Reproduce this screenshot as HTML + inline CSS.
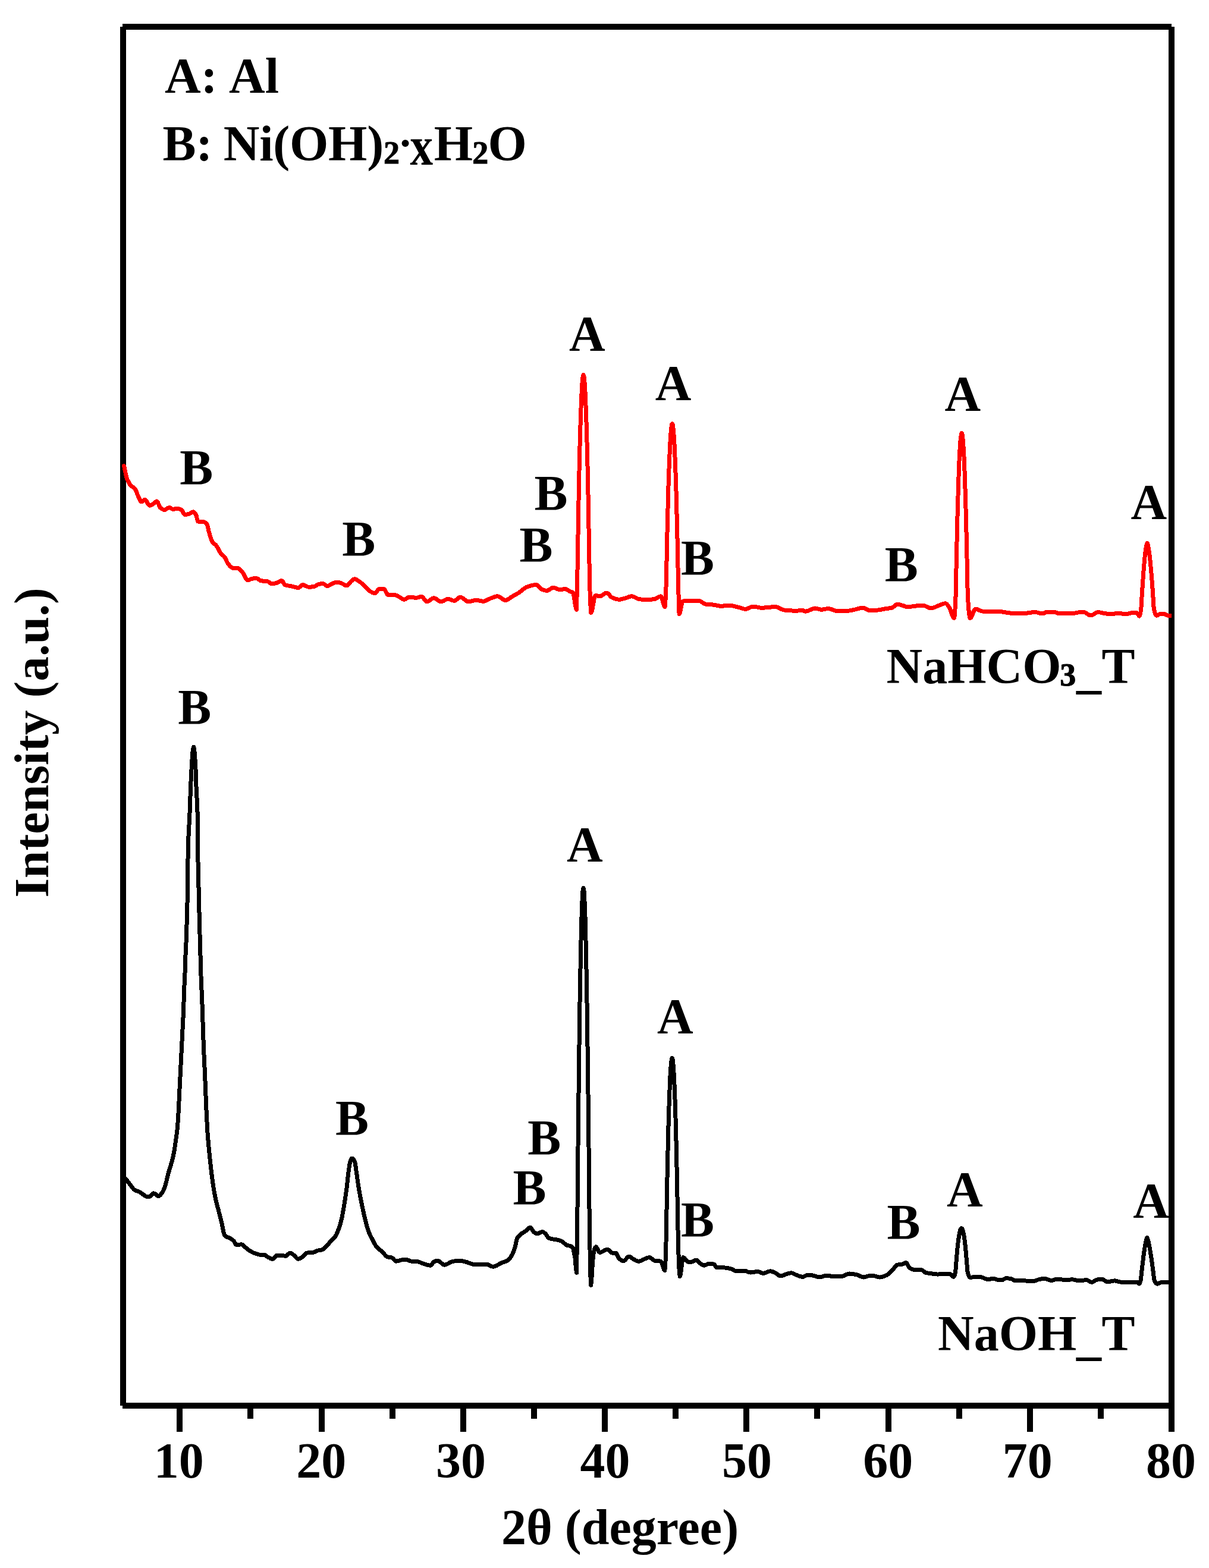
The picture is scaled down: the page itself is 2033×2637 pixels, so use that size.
<!DOCTYPE html>
<html lang="en">
<head>
<meta charset="utf-8">
<title>XRD patterns</title>
<style>
html,body{margin:0;padding:0;background:#fff;}
body{width:2033px;height:2637px;overflow:hidden;}
svg{display:block;}
text{font-family:"Liberation Serif", "DejaVu Serif", serif;font-weight:bold;font-size:84.0px;fill:#000;}
.sub{font-size:54px;stroke:#000;stroke-width:1px;}
</style>
</head>
<body>
<svg width="2033" height="2637" viewBox="0 0 2033 2637" role="img" aria-label="XRD patterns of NaHCO3_T and NaOH_T">
<rect x="0" y="0" width="2033" height="2637" fill="#fff"/>
<g fill="#000" shape-rendering="crispEdges">
<rect x="206" y="40" width="1764" height="10"/>
<rect x="202" y="45" width="10" height="2319"/>
<rect x="1965" y="45" width="10" height="2363"/>
<rect x="206" y="2359" width="1764" height="10"/>
<rect x="297" y="2364" width="10" height="44"/>
<rect x="416" y="2364" width="10" height="22"/>
<rect x="536" y="2364" width="10" height="44"/>
<rect x="655" y="2364" width="10" height="22"/>
<rect x="774" y="2364" width="10" height="44"/>
<rect x="893" y="2364" width="10" height="22"/>
<rect x="1012" y="2364" width="10" height="44"/>
<rect x="1131" y="2364" width="10" height="22"/>
<rect x="1250" y="2364" width="10" height="44"/>
<rect x="1369" y="2364" width="10" height="22"/>
<rect x="1489" y="2364" width="10" height="44"/>
<rect x="1608" y="2364" width="10" height="22"/>
<rect x="1727" y="2364" width="10" height="44"/>
<rect x="1846" y="2364" width="10" height="22"/>
</g>
<svg x="0" y="0" width="1970" height="2637" viewBox="0 0 1970 2637" overflow="hidden">
<g fill="none" stroke-linejoin="round" stroke-linecap="round" shape-rendering="crispEdges">
<defs><path id="curve-naoh" d="M207.0 1978.5 L208.0 1979.4 L209.0 1980.3 L210.0 1981.2 L211.0 1982.2 L212.0 1983.3 L213.0 1984.5 L214.0 1985.7 L215.0 1987.0 L216.0 1988.4 L217.0 1989.7 L218.0 1991.1 L219.0 1992.4 L219.7 1993.3 L221.0 1995.0 L222.0 1996.4 L223.0 1997.7 L224.0 1999.0 L225.0 2000.1 L226.0 2001.0 L226.8 2001.6 L228.0 2002.2 L229.0 2002.6 L230.0 2002.9 L231.0 2003.2 L232.0 2003.5 L233.0 2003.9 L234.0 2004.3 L234.5 2004.5 L235.0 2004.8 L236.0 2005.4 L237.0 2006.1 L238.0 2006.9 L239.0 2007.7 L240.0 2008.4 L240.5 2008.7 L241.0 2009.0 L242.0 2009.7 L243.0 2010.4 L244.0 2011.2 L245.0 2011.8 L246.0 2012.3 L247.0 2012.7 L248.2 2012.9 L249.0 2012.9 L250.0 2012.7 L251.0 2012.4 L252.0 2012.0 L252.9 2011.7 L254.0 2010.9 L255.0 2009.8 L256.0 2008.6 L257.0 2007.5 L258.3 2006.9 L259.0 2007.0 L260.0 2007.4 L261.0 2007.9 L262.0 2008.6 L263.0 2009.3 L264.0 2010.2 L265.0 2011.2 L266.0 2011.7 L267.0 2011.5 L268.0 2010.9 L269.0 2010.1 L270.0 2009.1 L271.0 2007.9 L271.9 2006.9 L273.0 2005.4 L274.0 2003.6 L275.0 2001.5 L275.5 2000.4 L276.0 1999.2 L277.0 1996.5 L278.0 1993.4 L279.1 1989.7 L280.0 1986.1 L281.0 1981.7 L282.0 1977.2 L282.6 1974.8 L284.0 1970.0 L285.0 1966.9 L286.2 1963.0 L287.0 1960.3 L288.0 1956.9 L289.0 1953.4 L290.0 1949.7 L290.6 1947.4 L292.0 1940.8 L293.0 1935.6 L293.5 1932.5 L295.0 1922.2 L295.6 1917.7 L297.0 1907.9 L298.0 1899.9 L299.5 1882.1 L300.0 1872.5 L301.0 1852.4 L302.4 1822.7 L303.0 1811.4 L303.9 1793.0 L305.4 1763.3 L306.0 1751.4 L306.9 1733.6 L308.4 1703.9 L309.0 1685.4 L309.9 1659.4 L311.3 1629.7 L312.2 1600.0 L312.9 1588.7 L314.0 1555.2 L314.7 1530.0 L315.4 1504.7 L316.1 1436.0 L317.0 1406.6 L318.0 1387.4 L319.0 1367.4 L320.0 1339.6 L320.5 1326.2 L321.0 1313.9 L321.7 1298.7 L323.4 1271.2 L324.0 1264.3 L324.6 1259.5 L325.6 1256.2 L326.6 1259.5 L327.7 1271.2 L329.3 1298.7 L330.1 1326.2 L331.0 1342.1 L332.1 1367.4 L332.7 1436.0 L334.3 1504.7 L334.9 1530.0 L336.0 1571.2 L336.5 1588.7 L337.0 1606.6 L338.0 1641.2 L338.6 1657.4 L339.5 1674.2 L341.0 1718.8 L342.0 1748.8 L342.5 1763.3 L344.0 1795.0 L344.6 1807.8 L346.4 1852.4 L347.0 1867.0 L348.5 1896.9 L349.0 1904.9 L350.0 1917.3 L350.8 1926.6 L352.0 1939.0 L353.0 1948.8 L353.8 1956.3 L355.0 1967.1 L356.0 1975.6 L357.4 1986.0 L358.0 1990.4 L359.0 1996.9 L360.0 2003.0 L361.0 2008.5 L361.8 2012.7 L363.0 2018.1 L364.0 2022.3 L365.0 2026.2 L366.0 2030.1 L366.9 2033.5 L368.0 2038.0 L369.0 2041.9 L370.0 2045.7 L371.0 2049.6 L372.2 2054.3 L373.0 2057.7 L374.0 2062.5 L375.0 2067.5 L376.0 2072.1 L377.0 2075.7 L378.1 2078.0 L379.0 2078.8 L380.0 2079.4 L381.0 2080.0 L382.0 2080.4 L383.0 2080.8 L384.0 2081.1 L385.0 2081.5 L386.0 2081.9 L387.1 2082.5 L388.0 2083.1 L389.0 2083.7 L390.0 2084.4 L391.0 2085.2 L392.0 2086.0 L393.0 2086.9 L394.0 2088.4 L395.0 2090.3 L396.0 2092.2 L397.4 2093.5 L398.0 2093.5 L399.0 2093.4 L400.0 2093.3 L401.0 2093.3 L402.0 2093.2 L403.0 2093.1 L404.0 2093.0 L405.0 2092.9 L406.4 2092.9 L407.0 2093.0 L408.0 2093.4 L409.0 2094.1 L410.0 2095.1 L411.0 2096.1 L412.0 2097.2 L413.0 2098.2 L413.8 2098.8 L415.0 2099.8 L416.0 2100.5 L417.0 2101.3 L418.0 2102.0 L419.0 2102.8 L420.0 2103.4 L421.2 2104.2 L422.0 2104.6 L423.0 2105.2 L424.0 2105.7 L425.0 2106.2 L426.0 2106.7 L427.0 2107.1 L428.0 2107.6 L429.0 2107.9 L430.1 2108.3 L431.0 2108.6 L432.0 2108.9 L433.0 2109.3 L434.0 2109.5 L435.0 2109.8 L436.0 2110.0 L437.0 2110.1 L437.5 2110.1 L439.0 2110.1 L440.0 2110.1 L441.0 2110.1 L442.0 2110.1 L443.5 2110.1 L444.0 2110.1 L445.0 2110.4 L446.0 2111.0 L447.0 2111.6 L448.0 2112.3 L449.0 2113.1 L450.0 2113.8 L450.9 2114.3 L452.0 2114.8 L453.0 2115.3 L454.0 2115.9 L455.0 2116.4 L456.0 2116.8 L457.0 2117.1 L458.3 2117.2 L459.0 2117.1 L460.0 2116.4 L461.0 2115.5 L462.0 2114.3 L463.0 2113.1 L464.0 2112.1 L465.0 2111.4 L465.7 2111.3 L467.0 2111.3 L468.0 2111.3 L469.0 2111.3 L470.0 2111.3 L471.0 2111.3 L471.7 2111.3 L473.0 2111.3 L474.0 2111.4 L475.0 2111.6 L476.0 2111.7 L477.0 2111.9 L478.0 2112.0 L479.0 2112.1 L480.0 2112.2 L480.6 2112.2 L482.0 2111.7 L483.0 2110.9 L484.0 2109.9 L485.0 2108.9 L486.0 2108.0 L487.0 2107.4 L488.0 2107.1 L489.0 2107.3 L490.0 2107.7 L491.0 2108.4 L492.0 2109.2 L493.0 2110.0 L493.9 2110.7 L495.0 2111.6 L496.0 2112.7 L497.0 2113.8 L498.0 2115.0 L499.0 2116.0 L500.0 2116.8 L501.4 2117.2 L502.0 2117.2 L503.0 2117.0 L504.0 2116.6 L505.0 2116.1 L506.0 2115.5 L507.0 2114.8 L508.0 2114.2 L508.8 2113.7 L510.0 2112.7 L511.0 2111.7 L512.0 2110.5 L513.0 2109.4 L514.0 2108.4 L515.0 2107.6 L516.2 2107.1 L517.0 2107.0 L518.0 2106.9 L519.0 2106.8 L520.0 2106.7 L521.0 2106.7 L522.0 2106.6 L523.0 2106.6 L524.0 2106.5 L525.0 2106.4 L526.0 2106.3 L526.6 2106.2 L528.0 2105.9 L529.0 2105.5 L530.0 2105.0 L531.0 2104.5 L532.0 2104.0 L533.0 2103.6 L534.0 2103.3 L535.0 2103.0 L536.0 2102.8 L537.0 2102.7 L538.0 2102.5 L539.0 2102.4 L540.0 2102.2 L541.4 2101.8 L542.0 2101.6 L543.0 2101.1 L544.0 2100.4 L545.0 2099.6 L546.0 2098.8 L547.0 2097.8 L548.0 2096.8 L549.0 2095.8 L550.4 2094.4 L551.0 2093.7 L552.0 2092.5 L553.0 2091.2 L554.0 2089.8 L555.0 2088.5 L556.3 2086.9 L557.0 2086.2 L558.0 2085.2 L559.0 2084.4 L560.0 2083.5 L561.0 2082.6 L562.0 2081.6 L563.0 2080.5 L563.7 2079.5 L565.0 2077.4 L566.0 2075.4 L567.0 2073.1 L568.0 2070.6 L569.0 2067.9 L569.7 2066.2 L571.0 2062.3 L572.0 2059.1 L573.0 2055.6 L574.1 2051.3 L575.0 2047.3 L576.0 2042.3 L577.0 2036.7 L578.0 2030.9 L578.6 2027.6 L580.0 2018.8 L581.0 2012.3 L582.0 2005.4 L583.0 1997.9 L584.0 1989.2 L585.0 1979.5 L586.0 1971.1 L587.0 1963.8 L588.0 1957.4 L589.0 1953.3 L590.0 1950.6 L591.0 1948.7 L591.9 1948.0 L593.0 1948.4 L594.0 1949.3 L595.0 1950.7 L596.4 1953.3 L597.0 1955.5 L598.0 1961.6 L599.3 1971.1 L600.0 1975.5 L601.0 1982.7 L602.0 1989.9 L603.2 1997.9 L604.0 2002.5 L605.0 2008.1 L606.0 2013.4 L607.0 2018.4 L608.3 2024.6 L609.0 2028.2 L610.0 2033.0 L611.0 2037.6 L612.0 2042.1 L613.0 2046.4 L614.2 2051.3 L615.0 2054.5 L616.0 2058.4 L617.0 2062.1 L618.0 2065.7 L619.0 2068.9 L620.1 2072.1 L621.0 2074.2 L622.0 2076.5 L623.0 2078.5 L624.0 2080.5 L625.0 2082.3 L626.0 2084.1 L627.0 2085.9 L627.6 2086.9 L629.0 2089.7 L630.0 2091.7 L631.0 2093.5 L632.0 2095.2 L633.5 2097.3 L634.0 2097.9 L635.0 2098.9 L636.0 2099.8 L637.0 2100.6 L638.0 2101.4 L639.0 2102.1 L640.0 2102.8 L641.0 2103.6 L642.4 2104.8 L643.0 2105.3 L644.0 2106.4 L645.0 2107.6 L646.0 2108.8 L647.0 2110.0 L648.0 2111.2 L649.0 2112.2 L650.0 2113.0 L651.3 2113.7 L652.0 2113.9 L653.0 2114.1 L654.0 2114.3 L655.0 2114.4 L656.0 2114.5 L657.0 2114.7 L658.0 2114.9 L658.7 2115.1 L660.0 2115.9 L661.0 2116.8 L662.0 2117.9 L663.0 2119.0 L664.0 2120.0 L665.0 2120.7 L666.2 2121.1 L667.0 2121.0 L668.0 2120.9 L669.0 2120.7 L670.0 2120.4 L671.0 2120.1 L672.0 2119.8 L673.0 2119.5 L674.0 2119.2 L675.1 2119.0 L676.0 2118.9 L677.0 2118.7 L678.0 2118.5 L679.0 2118.4 L680.0 2118.3 L681.0 2118.2 L682.5 2118.1 L683.0 2118.1 L684.0 2118.3 L685.0 2118.7 L686.0 2119.1 L687.0 2119.6 L688.0 2120.1 L689.0 2120.5 L690.0 2120.8 L691.4 2121.1 L692.0 2121.1 L693.0 2121.1 L694.0 2121.1 L695.0 2121.2 L696.0 2121.2 L697.0 2121.2 L698.0 2121.2 L699.0 2121.2 L700.0 2121.3 L701.0 2121.3 L702.0 2121.5 L703.0 2121.8 L704.0 2122.1 L705.0 2122.5 L706.0 2122.8 L707.0 2123.3 L708.0 2123.7 L709.0 2124.1 L710.0 2124.5 L711.0 2124.8 L711.9 2125.1 L713.0 2125.5 L714.0 2125.8 L715.0 2126.1 L716.0 2126.4 L717.0 2126.8 L718.0 2127.1 L719.0 2127.4 L720.0 2127.6 L721.0 2127.8 L722.0 2128.0 L723.0 2128.1 L723.8 2128.1 L725.0 2127.5 L726.0 2126.5 L727.0 2125.1 L728.0 2123.8 L729.0 2122.7 L729.7 2122.1 L731.0 2121.5 L732.0 2121.0 L733.0 2120.6 L734.0 2120.3 L735.0 2120.1 L735.6 2120.1 L737.0 2120.3 L738.0 2120.8 L739.0 2121.5 L740.0 2122.3 L741.0 2123.1 L742.0 2124.0 L743.0 2124.9 L744.0 2125.7 L745.0 2126.4 L746.0 2126.9 L747.0 2127.2 L747.5 2127.2 L749.0 2127.0 L750.0 2126.7 L751.0 2126.3 L752.0 2125.8 L753.0 2125.3 L754.0 2124.7 L755.0 2124.1 L756.0 2123.6 L757.0 2123.1 L758.0 2122.6 L759.4 2122.1 L760.0 2122.0 L761.0 2121.7 L762.0 2121.5 L763.0 2121.3 L764.0 2121.0 L765.0 2120.8 L766.0 2120.6 L767.0 2120.4 L768.0 2120.3 L769.0 2120.2 L770.0 2120.1 L771.3 2120.1 L772.0 2120.1 L773.0 2120.1 L774.0 2120.2 L775.0 2120.4 L776.0 2120.6 L777.0 2120.7 L778.0 2121.0 L779.0 2121.2 L780.0 2121.4 L781.0 2121.7 L782.0 2121.9 L783.1 2122.1 L784.0 2122.4 L785.0 2122.7 L786.0 2123.0 L787.0 2123.4 L788.0 2123.8 L789.0 2124.2 L790.0 2124.6 L791.0 2125.0 L792.0 2125.3 L793.0 2125.7 L794.0 2126.0 L795.0 2126.2 L796.0 2126.4 L797.0 2126.6 L798.0 2126.6 L799.0 2126.6 L800.0 2126.6 L801.0 2126.6 L802.0 2126.6 L803.0 2126.6 L804.0 2126.6 L805.0 2126.6 L806.0 2126.6 L807.0 2126.6 L808.0 2126.6 L809.0 2126.6 L810.0 2126.6 L811.0 2126.6 L812.0 2126.6 L813.0 2126.6 L814.0 2126.6 L815.0 2126.6 L816.0 2126.6 L817.0 2126.6 L818.0 2126.6 L818.8 2126.6 L820.0 2126.7 L821.0 2127.0 L822.0 2127.4 L823.0 2127.9 L824.0 2128.4 L825.0 2128.9 L826.0 2129.4 L827.0 2129.8 L828.0 2130.0 L829.2 2130.2 L830.0 2130.1 L831.0 2130.0 L832.0 2129.7 L833.0 2129.3 L834.0 2128.9 L835.0 2128.4 L836.0 2127.8 L837.0 2127.3 L838.0 2126.7 L839.0 2126.1 L840.0 2125.5 L841.0 2125.0 L842.0 2124.5 L842.5 2124.2 L844.0 2123.6 L845.0 2123.3 L846.0 2122.9 L847.0 2122.6 L848.0 2122.2 L849.0 2121.9 L850.0 2121.5 L851.0 2121.1 L852.0 2120.6 L853.0 2120.0 L854.4 2119.2 L855.0 2118.7 L856.0 2117.8 L857.0 2116.6 L858.0 2115.3 L859.0 2113.7 L860.0 2112.1 L861.0 2110.3 L861.8 2108.8 L863.0 2106.3 L864.0 2103.8 L865.0 2101.0 L866.3 2096.9 L867.0 2093.8 L868.0 2088.4 L869.2 2083.6 L870.0 2082.1 L871.0 2080.5 L872.0 2079.2 L873.0 2078.1 L874.0 2077.2 L875.2 2076.1 L876.0 2075.4 L877.0 2074.7 L878.0 2074.0 L879.0 2073.4 L880.0 2072.8 L881.0 2072.2 L882.0 2071.6 L883.0 2070.9 L884.1 2070.2 L885.0 2069.4 L886.0 2068.4 L887.0 2067.4 L888.0 2066.3 L889.0 2065.4 L890.0 2064.7 L891.0 2064.3 L891.5 2064.3 L893.0 2065.2 L894.0 2066.6 L895.0 2068.3 L896.0 2070.0 L897.4 2071.7 L898.0 2072.1 L899.0 2072.8 L900.0 2073.4 L901.0 2074.0 L902.0 2074.4 L903.4 2074.6 L904.0 2074.6 L905.0 2074.4 L906.0 2074.0 L907.0 2073.6 L908.0 2073.1 L909.0 2072.6 L910.0 2072.2 L911.0 2071.8 L912.3 2071.7 L913.0 2071.8 L914.0 2072.2 L915.0 2073.0 L916.0 2073.9 L917.0 2074.9 L918.2 2076.1 L919.0 2077.1 L920.0 2078.6 L921.0 2080.2 L922.0 2081.5 L922.7 2082.1 L924.0 2082.6 L925.0 2082.9 L926.0 2083.2 L927.0 2083.4 L928.0 2083.6 L929.0 2083.8 L930.0 2084.0 L931.0 2084.2 L932.0 2084.3 L933.0 2084.5 L934.0 2084.6 L935.0 2084.7 L936.0 2084.9 L937.1 2085.1 L938.0 2085.3 L939.0 2085.5 L940.0 2085.8 L941.0 2086.1 L942.0 2086.5 L943.0 2086.9 L944.3 2087.4 L945.0 2087.8 L946.0 2088.4 L947.0 2089.2 L948.0 2090.1 L949.0 2091.0 L950.0 2091.9 L951.0 2092.7 L952.0 2093.4 L953.0 2094.0 L953.5 2094.2 L954.0 2094.4 L955.0 2094.6 L956.0 2094.8 L957.0 2095.0 L958.0 2095.2 L959.0 2095.4 L960.0 2095.8 L960.6 2096.0 L962.0 2097.0 L963.2 2098.5 L964.0 2100.8 L965.0 2105.5 L965.6 2108.5 L967.0 2116.0 L968.0 2128.0 L969.0 2137.0 L969.6 2140.5 L970.8 2050.6 L971.5 1983.1 L972.0 1929.3 L972.5 1880.3 L973.6 1789.6 L974.6 1710.9 L975.7 1644.4 L976.8 1590.0 L977.8 1547.6 L978.9 1517.4 L979.9 1499.2 L980.5 1494.7 L981.0 1493.2 L981.5 1494.7 L982.1 1499.2 L983.1 1517.4 L984.2 1547.6 L985.2 1590.0 L986.3 1644.4 L987.4 1710.9 L988.4 1789.6 L989.5 1880.3 L990.0 1929.3 L990.5 1983.1 L991.2 2050.6 L992.0 2102.1 L993.0 2147.9 L993.8 2161.3 L995.0 2147.8 L996.0 2131.0 L997.0 2117.9 L997.8 2110.0 L999.0 2103.3 L1000.0 2100.0 L1001.0 2097.9 L1002.0 2097.0 L1003.0 2097.6 L1004.0 2099.2 L1005.0 2101.2 L1006.0 2103.4 L1007.0 2105.2 L1008.4 2106.3 L1009.0 2106.3 L1010.0 2106.1 L1011.0 2105.8 L1012.0 2105.3 L1013.0 2104.8 L1014.0 2104.3 L1015.0 2103.7 L1016.0 2103.1 L1017.0 2102.6 L1018.0 2102.1 L1019.0 2101.7 L1020.0 2101.4 L1021.2 2101.3 L1022.0 2101.4 L1023.0 2101.9 L1024.0 2102.7 L1025.0 2103.7 L1026.0 2104.7 L1027.0 2105.7 L1028.0 2106.5 L1029.0 2107.0 L1029.8 2107.2 L1031.0 2107.3 L1032.0 2107.3 L1033.0 2107.3 L1034.0 2107.3 L1035.0 2107.4 L1035.5 2107.4 L1036.0 2107.6 L1037.0 2108.8 L1038.0 2110.8 L1039.0 2113.0 L1040.0 2115.1 L1041.2 2116.8 L1042.0 2117.5 L1043.0 2118.2 L1044.0 2119.0 L1045.0 2119.6 L1046.0 2120.1 L1047.0 2120.4 L1048.3 2120.6 L1049.0 2120.5 L1050.0 2120.0 L1051.0 2119.1 L1052.0 2118.1 L1053.0 2117.0 L1054.0 2115.8 L1055.0 2114.8 L1056.0 2113.9 L1057.0 2113.4 L1057.8 2113.2 L1059.0 2113.5 L1060.0 2114.0 L1061.0 2114.6 L1062.0 2115.4 L1063.0 2116.2 L1064.0 2117.0 L1065.2 2117.7 L1066.0 2118.1 L1067.0 2118.6 L1068.0 2119.2 L1069.0 2119.7 L1070.0 2120.2 L1071.0 2120.6 L1072.0 2120.9 L1073.0 2121.2 L1074.1 2121.3 L1075.0 2121.2 L1076.0 2121.0 L1077.0 2120.6 L1078.0 2120.2 L1079.0 2119.7 L1080.0 2119.1 L1081.0 2118.6 L1082.0 2118.1 L1083.0 2117.7 L1084.0 2117.3 L1085.0 2116.9 L1086.0 2116.4 L1087.0 2116.0 L1088.0 2115.6 L1089.0 2115.2 L1090.0 2115.0 L1091.0 2114.8 L1091.9 2114.7 L1093.0 2114.9 L1094.0 2115.4 L1095.0 2116.1 L1096.0 2116.9 L1097.0 2117.7 L1098.0 2118.5 L1099.0 2119.3 L1100.0 2119.8 L1100.8 2120.1 L1102.0 2120.3 L1103.0 2120.4 L1104.0 2120.5 L1105.0 2120.5 L1106.0 2120.6 L1107.0 2120.7 L1108.0 2120.8 L1109.0 2120.9 L1110.0 2121.0 L1111.2 2121.3 L1112.0 2122.0 L1113.0 2124.2 L1114.0 2127.3 L1115.0 2130.7 L1116.0 2133.8 L1117.0 2136.0 L1117.9 2136.7 L1119.0 2121.5 L1120.0 2089.6 L1120.7 2052.1 L1121.7 1994.9 L1122.8 1944.4 L1123.8 1900.6 L1124.9 1863.6 L1126.0 1833.3 L1127.0 1809.8 L1128.1 1793.0 L1129.1 1782.9 L1129.7 1780.3 L1130.2 1779.5 L1130.7 1780.3 L1131.3 1782.9 L1132.3 1793.0 L1133.4 1809.8 L1134.4 1833.3 L1135.0 1848.5 L1135.5 1863.6 L1136.0 1880.2 L1136.6 1900.6 L1137.6 1944.4 L1138.7 1994.9 L1139.7 2052.1 L1140.4 2089.6 L1141.0 2109.4 L1142.0 2134.3 L1143.2 2146.6 L1144.0 2144.9 L1145.0 2139.1 L1146.0 2131.2 L1147.0 2123.1 L1148.0 2117.0 L1148.9 2114.7 L1150.0 2115.1 L1151.0 2115.9 L1152.0 2117.0 L1153.0 2118.3 L1154.0 2119.6 L1155.0 2120.8 L1156.0 2121.7 L1157.2 2122.1 L1158.0 2122.1 L1159.0 2122.1 L1160.0 2122.1 L1161.0 2122.1 L1162.0 2122.1 L1163.2 2122.1 L1164.0 2122.0 L1165.0 2121.7 L1166.0 2121.2 L1167.0 2120.6 L1168.0 2120.0 L1169.0 2119.5 L1170.0 2119.2 L1170.6 2119.2 L1172.0 2119.6 L1173.0 2120.3 L1174.0 2121.3 L1175.0 2122.3 L1176.0 2123.4 L1177.0 2124.3 L1178.0 2125.1 L1179.0 2125.7 L1180.0 2126.4 L1181.0 2127.1 L1182.0 2127.6 L1183.0 2128.0 L1184.0 2128.1 L1185.0 2128.0 L1186.0 2127.7 L1187.0 2127.3 L1188.0 2126.8 L1189.0 2126.3 L1190.0 2125.8 L1191.0 2125.5 L1192.0 2125.2 L1192.9 2125.1 L1194.0 2125.1 L1195.0 2125.2 L1196.0 2125.3 L1197.0 2125.4 L1198.0 2125.6 L1199.0 2125.8 L1200.0 2126.0 L1201.0 2126.6 L1202.0 2127.8 L1203.0 2129.2 L1204.0 2130.6 L1205.0 2131.6 L1205.9 2131.9 L1207.0 2131.9 L1208.0 2131.9 L1209.0 2131.9 L1210.0 2131.9 L1211.0 2131.9 L1212.0 2131.9 L1213.0 2131.9 L1214.0 2131.9 L1215.0 2131.9 L1216.0 2131.9 L1217.0 2131.9 L1217.8 2131.9 L1219.0 2132.0 L1220.0 2132.0 L1221.0 2132.2 L1222.0 2132.3 L1223.0 2132.5 L1224.0 2132.7 L1225.0 2132.9 L1226.0 2133.1 L1227.0 2133.3 L1228.0 2133.6 L1229.0 2133.8 L1229.7 2134.0 L1231.0 2134.5 L1232.0 2135.0 L1233.0 2135.6 L1234.0 2136.2 L1235.0 2136.7 L1236.0 2137.2 L1237.0 2137.6 L1238.0 2137.8 L1238.6 2137.9 L1240.0 2137.9 L1241.0 2137.8 L1242.0 2137.7 L1243.0 2137.6 L1244.0 2137.5 L1245.0 2137.4 L1246.0 2137.3 L1247.0 2137.2 L1248.0 2137.1 L1249.0 2137.0 L1250.5 2137.0 L1251.0 2137.0 L1252.0 2137.1 L1253.0 2137.3 L1254.0 2137.6 L1255.0 2138.0 L1256.0 2138.3 L1257.0 2138.7 L1258.0 2139.1 L1259.0 2139.4 L1260.0 2139.7 L1261.0 2139.9 L1262.4 2140.0 L1263.0 2140.0 L1264.0 2139.9 L1265.0 2139.8 L1266.0 2139.6 L1267.0 2139.5 L1268.0 2139.3 L1269.0 2139.1 L1270.0 2138.9 L1271.0 2138.7 L1272.0 2138.6 L1273.0 2138.5 L1274.2 2138.5 L1275.0 2138.5 L1276.0 2138.8 L1277.0 2139.2 L1278.0 2139.6 L1279.0 2140.1 L1280.0 2140.6 L1281.0 2141.0 L1282.0 2141.3 L1283.1 2141.4 L1284.0 2141.4 L1285.0 2141.2 L1286.0 2140.9 L1287.0 2140.6 L1288.0 2140.1 L1289.0 2139.7 L1290.0 2139.3 L1291.0 2138.8 L1292.0 2138.5 L1293.0 2138.2 L1294.0 2138.0 L1295.0 2137.9 L1296.0 2137.9 L1297.0 2138.1 L1298.0 2138.4 L1299.0 2138.7 L1300.0 2139.0 L1301.0 2139.4 L1302.4 2140.0 L1303.0 2140.2 L1304.0 2140.7 L1305.0 2141.4 L1306.0 2142.1 L1307.0 2142.9 L1308.0 2143.7 L1309.0 2144.4 L1310.0 2145.0 L1311.0 2145.5 L1312.0 2145.8 L1312.8 2145.9 L1314.0 2145.8 L1315.0 2145.6 L1316.0 2145.2 L1317.0 2144.8 L1318.0 2144.4 L1319.0 2144.0 L1320.0 2143.5 L1321.0 2143.2 L1321.7 2142.9 L1323.0 2142.6 L1324.0 2142.3 L1325.0 2141.9 L1326.0 2141.6 L1327.0 2141.4 L1328.0 2141.1 L1329.0 2141.0 L1330.0 2140.9 L1330.6 2140.9 L1332.0 2141.0 L1333.0 2141.3 L1334.0 2141.7 L1335.0 2142.2 L1336.0 2142.7 L1337.0 2143.3 L1338.0 2143.8 L1339.0 2144.2 L1339.5 2144.4 L1341.0 2144.9 L1342.0 2145.3 L1343.0 2145.7 L1344.0 2146.1 L1345.0 2146.4 L1346.0 2146.7 L1347.0 2147.0 L1348.0 2147.2 L1349.0 2147.3 L1349.9 2147.4 L1351.0 2147.2 L1352.0 2146.8 L1353.0 2146.3 L1354.0 2145.7 L1355.0 2145.1 L1356.0 2144.7 L1357.4 2144.4 L1358.0 2144.4 L1359.0 2144.4 L1360.0 2144.5 L1361.0 2144.5 L1362.0 2144.6 L1363.0 2144.7 L1364.0 2144.8 L1365.0 2144.9 L1366.3 2145.0 L1367.0 2145.1 L1368.0 2145.3 L1369.0 2145.6 L1370.0 2145.9 L1371.0 2146.2 L1372.0 2146.6 L1373.0 2146.9 L1374.0 2147.2 L1375.0 2147.5 L1376.0 2147.8 L1377.0 2147.9 L1378.1 2148.0 L1379.0 2147.9 L1380.0 2147.8 L1381.0 2147.5 L1382.0 2147.2 L1383.0 2146.9 L1384.0 2146.5 L1385.0 2146.2 L1386.0 2145.8 L1387.0 2145.5 L1388.0 2145.2 L1389.0 2145.1 L1390.0 2145.0 L1391.0 2145.0 L1392.0 2145.1 L1393.0 2145.3 L1394.0 2145.5 L1395.0 2145.7 L1396.0 2145.9 L1397.0 2146.1 L1398.0 2146.3 L1399.0 2146.5 L1400.0 2146.7 L1401.0 2146.8 L1401.9 2146.8 L1403.0 2146.8 L1404.0 2146.8 L1405.0 2146.8 L1406.0 2146.8 L1407.0 2146.8 L1408.0 2146.8 L1409.0 2146.8 L1410.0 2146.8 L1411.0 2146.8 L1412.0 2146.8 L1413.0 2146.8 L1413.8 2146.8 L1415.0 2146.7 L1416.0 2146.5 L1417.0 2146.2 L1418.0 2145.9 L1419.0 2145.4 L1420.0 2145.0 L1421.0 2144.5 L1422.0 2144.0 L1423.0 2143.6 L1424.0 2143.1 L1425.0 2142.8 L1426.0 2142.4 L1427.0 2142.2 L1428.0 2142.1 L1428.6 2142.0 L1430.0 2142.1 L1431.0 2142.1 L1432.0 2142.2 L1433.0 2142.4 L1434.0 2142.5 L1435.0 2142.7 L1436.0 2142.9 L1437.0 2143.1 L1438.0 2143.3 L1439.0 2143.5 L1440.5 2143.8 L1441.0 2143.9 L1442.0 2144.2 L1443.0 2144.6 L1444.0 2145.1 L1445.0 2145.5 L1446.0 2146.0 L1447.0 2146.5 L1448.0 2146.9 L1449.0 2147.3 L1450.0 2147.6 L1451.0 2147.9 L1452.4 2148.0 L1453.0 2148.0 L1454.0 2147.8 L1455.0 2147.5 L1456.0 2147.2 L1457.0 2146.9 L1458.0 2146.5 L1459.0 2146.2 L1460.0 2146.0 L1461.3 2145.9 L1462.0 2145.9 L1463.0 2145.9 L1464.0 2145.9 L1465.0 2145.9 L1466.0 2145.9 L1467.0 2145.9 L1468.0 2145.9 L1469.0 2145.9 L1470.2 2145.9 L1471.0 2146.0 L1472.0 2146.1 L1473.0 2146.4 L1474.0 2146.7 L1475.0 2147.1 L1476.0 2147.4 L1477.0 2147.7 L1478.0 2147.9 L1479.1 2148.0 L1480.0 2148.0 L1481.0 2147.9 L1482.0 2147.7 L1483.0 2147.5 L1484.0 2147.2 L1485.0 2146.9 L1486.0 2146.5 L1487.0 2146.1 L1488.0 2145.7 L1489.0 2145.3 L1490.0 2144.9 L1491.0 2144.4 L1492.0 2143.9 L1493.0 2143.2 L1494.0 2142.5 L1495.0 2141.6 L1496.0 2140.7 L1497.0 2139.8 L1498.0 2138.8 L1499.0 2137.8 L1499.9 2137.0 L1501.0 2135.8 L1502.0 2134.5 L1503.0 2133.2 L1504.0 2131.8 L1505.0 2130.4 L1506.0 2129.2 L1507.0 2128.2 L1508.0 2127.5 L1508.8 2127.2 L1510.0 2127.0 L1511.0 2126.8 L1512.0 2126.7 L1513.0 2126.6 L1514.0 2126.5 L1515.0 2126.4 L1516.0 2126.3 L1517.0 2126.1 L1517.7 2126.0 L1519.0 2125.6 L1520.0 2125.0 L1521.0 2124.5 L1522.0 2124.0 L1523.0 2123.7 L1523.6 2123.6 L1525.0 2124.7 L1526.0 2126.4 L1527.0 2128.5 L1528.0 2130.5 L1529.0 2132.0 L1529.6 2132.5 L1531.0 2133.3 L1532.0 2133.8 L1533.0 2134.3 L1534.0 2134.7 L1535.0 2135.0 L1536.0 2135.2 L1537.0 2135.4 L1538.5 2135.5 L1539.0 2135.5 L1540.0 2135.5 L1541.0 2135.5 L1542.0 2135.5 L1543.0 2135.5 L1544.0 2135.5 L1545.0 2135.5 L1546.0 2135.5 L1547.0 2135.5 L1548.0 2135.5 L1548.9 2135.5 L1550.0 2135.7 L1551.0 2136.2 L1552.0 2137.0 L1553.0 2137.8 L1554.0 2138.7 L1555.0 2139.5 L1556.0 2140.2 L1557.0 2140.7 L1557.8 2140.9 L1559.0 2140.9 L1560.0 2141.0 L1561.0 2141.1 L1562.0 2141.2 L1563.0 2141.3 L1564.0 2141.5 L1565.0 2141.6 L1566.0 2141.8 L1567.0 2141.9 L1568.0 2142.1 L1569.0 2142.2 L1570.0 2142.4 L1571.0 2142.5 L1572.0 2142.7 L1573.0 2142.8 L1574.0 2142.9 L1575.0 2142.9 L1576.0 2143.0 L1577.0 2143.0 L1578.0 2143.0 L1579.0 2142.9 L1580.0 2142.8 L1581.0 2142.8 L1582.0 2142.7 L1583.0 2142.5 L1584.0 2142.5 L1585.0 2142.4 L1586.0 2142.3 L1587.0 2142.3 L1588.0 2142.3 L1589.0 2142.3 L1590.0 2142.3 L1591.0 2142.3 L1592.0 2142.4 L1593.0 2142.4 L1594.0 2142.4 L1595.0 2142.5 L1596.0 2142.5 L1597.0 2142.6 L1598.0 2142.9 L1599.0 2143.6 L1600.0 2144.6 L1601.0 2145.6 L1602.0 2146.5 L1603.0 2147.1 L1603.8 2147.3 L1605.0 2145.6 L1606.0 2141.9 L1606.9 2136.9 L1607.5 2128.3 L1608.6 2115.1 L1609.6 2103.5 L1610.6 2093.5 L1611.6 2084.9 L1612.7 2078.0 L1613.7 2072.6 L1614.7 2068.7 L1615.8 2066.4 L1616.3 2065.8 L1616.8 2065.6 L1617.3 2065.8 L1617.8 2066.4 L1618.9 2068.7 L1619.9 2072.6 L1620.9 2078.0 L1622.0 2084.9 L1623.0 2093.5 L1624.0 2103.5 L1625.0 2115.1 L1626.1 2128.3 L1626.7 2136.9 L1628.0 2142.6 L1629.0 2145.6 L1630.0 2147.5 L1631.3 2148.4 L1632.0 2148.4 L1633.0 2148.3 L1634.0 2148.1 L1635.0 2148.0 L1636.0 2147.8 L1637.0 2147.6 L1638.0 2147.4 L1639.0 2147.3 L1640.0 2147.3 L1641.0 2147.3 L1642.0 2147.3 L1643.0 2147.3 L1644.0 2147.3 L1645.0 2147.3 L1646.0 2147.3 L1647.0 2147.3 L1648.0 2147.4 L1649.0 2147.5 L1650.0 2147.8 L1651.0 2148.1 L1652.0 2148.4 L1653.0 2148.8 L1654.0 2149.3 L1655.0 2149.7 L1656.0 2150.2 L1657.0 2150.6 L1658.0 2150.9 L1659.0 2151.2 L1660.0 2151.5 L1661.0 2151.6 L1662.0 2151.7 L1663.0 2151.6 L1664.0 2151.4 L1665.0 2151.1 L1666.0 2150.7 L1667.0 2150.4 L1668.0 2150.2 L1669.0 2150.1 L1670.0 2150.2 L1671.0 2150.4 L1672.0 2150.6 L1673.0 2151.0 L1674.0 2151.3 L1675.0 2151.6 L1676.0 2151.9 L1677.0 2152.1 L1678.0 2152.2 L1679.0 2152.3 L1680.0 2152.5 L1681.0 2152.6 L1682.0 2152.6 L1683.0 2152.7 L1684.4 2152.7 L1685.0 2152.7 L1686.0 2152.4 L1687.0 2151.9 L1688.0 2151.3 L1689.0 2150.7 L1690.0 2150.2 L1691.0 2149.9 L1691.8 2149.8 L1693.0 2149.8 L1694.0 2149.8 L1695.0 2149.9 L1696.0 2150.0 L1697.0 2150.1 L1698.0 2150.2 L1699.3 2150.4 L1700.0 2150.5 L1701.0 2150.9 L1702.0 2151.3 L1703.0 2151.9 L1704.0 2152.4 L1705.0 2153.0 L1706.0 2153.4 L1707.0 2153.8 L1708.2 2153.9 L1709.0 2153.9 L1710.0 2153.9 L1711.0 2153.9 L1712.0 2153.9 L1713.0 2153.9 L1714.0 2153.9 L1715.0 2153.9 L1716.0 2153.9 L1717.0 2153.9 L1718.0 2153.9 L1719.0 2153.9 L1720.0 2153.9 L1721.0 2153.9 L1722.0 2153.9 L1723.0 2153.9 L1724.0 2153.9 L1725.0 2154.0 L1726.0 2154.0 L1727.0 2154.1 L1728.0 2154.2 L1729.0 2154.3 L1730.0 2154.4 L1731.0 2154.5 L1732.0 2154.6 L1733.0 2154.7 L1734.0 2154.7 L1735.0 2154.8 L1736.4 2154.8 L1737.0 2154.8 L1738.0 2154.7 L1739.0 2154.4 L1740.0 2154.2 L1741.0 2153.8 L1742.0 2153.4 L1743.0 2153.1 L1744.0 2152.7 L1745.0 2152.3 L1746.0 2152.0 L1746.8 2151.8 L1748.0 2151.6 L1749.0 2151.3 L1750.0 2151.1 L1751.0 2150.9 L1752.0 2150.7 L1753.0 2150.6 L1754.0 2150.4 L1755.0 2150.4 L1755.7 2150.4 L1757.0 2150.5 L1758.0 2150.7 L1759.0 2150.9 L1760.0 2151.2 L1761.0 2151.6 L1762.0 2152.0 L1763.0 2152.3 L1764.0 2152.7 L1765.0 2153.0 L1766.0 2153.2 L1767.0 2153.3 L1767.6 2153.3 L1769.0 2153.2 L1770.0 2153.1 L1771.0 2152.8 L1772.0 2152.6 L1773.0 2152.3 L1774.0 2152.0 L1775.0 2151.7 L1776.0 2151.4 L1777.0 2151.2 L1778.0 2151.0 L1779.4 2151.0 L1780.0 2151.0 L1781.0 2151.0 L1782.0 2151.2 L1783.0 2151.3 L1784.0 2151.5 L1785.0 2151.8 L1786.0 2152.0 L1787.0 2152.2 L1788.0 2152.4 L1789.0 2152.6 L1790.0 2152.7 L1791.3 2152.7 L1792.0 2152.7 L1793.0 2152.7 L1794.0 2152.6 L1795.0 2152.5 L1796.0 2152.4 L1797.0 2152.3 L1798.0 2152.2 L1799.0 2152.1 L1800.0 2152.0 L1801.0 2151.9 L1802.0 2151.9 L1803.2 2151.8 L1804.0 2151.9 L1805.0 2152.0 L1806.0 2152.1 L1807.0 2152.3 L1808.0 2152.6 L1809.0 2152.8 L1810.0 2153.1 L1811.0 2153.4 L1812.0 2153.6 L1813.0 2153.8 L1814.0 2153.9 L1815.1 2153.9 L1816.0 2153.9 L1817.0 2153.8 L1818.0 2153.7 L1819.0 2153.6 L1820.0 2153.5 L1821.0 2153.3 L1822.0 2153.2 L1823.0 2153.0 L1824.0 2152.9 L1825.0 2152.8 L1826.0 2152.8 L1826.9 2152.7 L1828.0 2152.9 L1829.0 2153.2 L1830.0 2153.7 L1831.0 2154.3 L1832.0 2154.9 L1833.0 2155.4 L1834.0 2155.9 L1835.0 2156.2 L1835.9 2156.3 L1837.0 2156.1 L1838.0 2155.7 L1839.0 2155.1 L1840.0 2154.5 L1841.0 2153.8 L1842.0 2153.3 L1843.3 2152.7 L1844.0 2152.5 L1845.0 2152.2 L1846.0 2152.0 L1847.0 2151.7 L1848.0 2151.5 L1849.0 2151.3 L1850.0 2151.1 L1851.0 2151.0 L1852.2 2151.0 L1853.0 2151.0 L1854.0 2151.3 L1855.0 2151.8 L1856.0 2152.4 L1857.0 2153.1 L1858.0 2153.8 L1859.0 2154.4 L1860.0 2155.0 L1861.0 2155.4 L1862.0 2155.7 L1862.6 2155.7 L1864.0 2155.6 L1865.0 2155.5 L1866.0 2155.3 L1867.0 2155.1 L1868.0 2154.9 L1869.0 2154.7 L1870.0 2154.5 L1871.0 2154.3 L1872.0 2154.1 L1873.0 2154.0 L1874.4 2153.9 L1875.0 2153.9 L1876.0 2154.1 L1877.0 2154.3 L1878.0 2154.6 L1879.0 2154.9 L1880.0 2155.1 L1881.0 2155.3 L1882.0 2155.6 L1883.0 2155.8 L1884.0 2156.0 L1885.0 2156.1 L1886.0 2156.2 L1887.0 2156.2 L1888.0 2156.2 L1889.0 2156.2 L1890.0 2156.2 L1891.0 2156.2 L1892.0 2156.2 L1893.0 2156.2 L1894.0 2156.2 L1895.0 2156.2 L1896.0 2156.2 L1897.0 2156.2 L1898.0 2156.2 L1899.0 2156.2 L1900.0 2156.2 L1901.0 2156.2 L1902.0 2156.2 L1903.0 2156.2 L1904.0 2156.2 L1905.0 2156.2 L1906.0 2156.2 L1907.0 2156.2 L1908.0 2156.2 L1909.0 2156.2 L1910.0 2156.2 L1911.0 2156.2 L1912.0 2156.2 L1913.0 2156.7 L1914.0 2157.8 L1915.0 2158.8 L1915.6 2159.0 L1917.0 2157.0 L1918.3 2152.1 L1919.0 2145.8 L1920.1 2135.9 L1921.2 2126.4 L1922.3 2117.6 L1923.3 2109.3 L1924.4 2101.7 L1925.0 2098.1 L1925.5 2094.9 L1926.6 2089.0 L1927.7 2084.3 L1928.3 2082.5 L1928.8 2081.5 L1929.4 2082.5 L1930.0 2084.3 L1931.3 2089.0 L1932.0 2092.2 L1932.5 2094.9 L1933.8 2101.7 L1935.0 2109.3 L1936.3 2117.6 L1937.0 2122.5 L1937.5 2126.4 L1938.8 2135.9 L1940.0 2145.8 L1940.8 2152.1 L1942.0 2155.1 L1943.0 2156.9 L1944.0 2158.2 L1945.0 2158.9 L1945.9 2159.1 L1947.0 2158.9 L1948.0 2158.5 L1949.0 2158.0 L1950.0 2157.5 L1951.0 2157.1 L1952.0 2156.9 L1953.0 2156.9 L1954.0 2156.9 L1955.0 2156.9 L1956.0 2156.9 L1957.0 2156.9 L1958.0 2156.9 L1959.0 2156.9 L1960.0 2156.9 L1961.0 2156.9 L1962.0 2156.9 L1963.0 2156.9 L1964.0 2156.9 L1965.0 2156.9 L1966.0 2156.9 L1967.0 2156.9 L1968.0 2156.9 L1969.0 2156.9 L1970.0 2156.9 L1971.0 2156.9 L1972.0 2156.9 L1973.0 2156.9 L1974.0 2156.9 L1975.0 2156.9 L1976.0 2156.9"/><path id="curve-nahco3" d="M208.5 783.5 L209.6 788.5 L210.5 792.6 L211.7 798.0 L212.5 801.6 L213.6 805.6 L214.5 807.4 L215.5 809.0 L216.5 810.9 L217.5 812.9 L218.5 814.7 L219.6 816.3 L220.5 817.2 L221.5 818.0 L222.5 818.6 L223.5 819.2 L224.5 819.8 L225.5 820.5 L226.7 821.7 L227.5 822.9 L228.5 824.9 L229.5 827.3 L230.5 829.9 L231.5 832.5 L232.5 834.9 L233.0 835.9 L233.5 836.9 L234.5 839.1 L235.5 841.2 L236.5 842.9 L237.8 843.9 L238.5 843.8 L239.5 843.2 L240.5 842.3 L241.5 841.4 L242.5 840.7 L243.6 840.4 L244.5 840.7 L245.5 841.8 L246.5 843.3 L247.5 845.0 L248.5 846.8 L249.5 848.4 L250.5 849.6 L251.7 850.2 L252.5 850.1 L253.5 849.8 L254.5 849.4 L255.5 848.8 L256.5 848.1 L257.5 847.4 L258.8 846.6 L259.5 846.1 L260.5 845.2 L261.5 844.2 L262.5 843.5 L263.8 843.0 L264.5 843.4 L265.5 845.0 L266.5 847.4 L267.5 850.0 L268.5 852.3 L269.5 853.7 L270.5 854.5 L271.5 855.2 L272.5 855.9 L273.5 856.5 L274.5 856.9 L275.5 857.2 L276.6 857.3 L277.5 857.2 L278.5 856.8 L279.5 856.2 L280.5 855.6 L281.5 854.9 L282.5 854.3 L283.5 853.9 L284.6 853.7 L285.5 853.8 L286.5 854.3 L287.5 854.9 L288.5 855.5 L289.5 856.1 L290.9 856.4 L291.5 856.4 L292.5 856.2 L293.5 855.9 L294.5 855.7 L295.5 855.4 L296.5 855.2 L297.1 855.2 L298.5 855.3 L299.5 855.4 L300.5 855.6 L301.5 855.9 L302.5 856.2 L303.5 856.6 L304.5 857.0 L305.1 857.3 L306.5 859.0 L307.5 861.0 L308.5 863.0 L309.5 864.6 L310.5 865.3 L311.5 865.3 L312.5 865.2 L313.5 865.1 L314.5 865.0 L315.5 864.8 L316.5 864.6 L317.6 864.4 L318.5 864.1 L319.5 863.6 L320.5 862.9 L321.5 862.2 L322.5 861.6 L323.5 861.1 L324.7 860.9 L325.5 861.1 L326.5 861.8 L327.5 862.9 L328.5 864.3 L329.5 866.0 L330.1 867.1 L331.5 873.0 L332.7 876.9 L333.5 877.1 L334.5 877.2 L335.5 877.3 L336.5 877.4 L337.5 877.4 L338.5 877.4 L339.5 877.5 L340.5 877.6 L341.5 877.7 L342.5 877.8 L343.5 878.1 L344.5 878.5 L345.5 879.1 L346.5 879.9 L347.9 881.3 L348.5 882.5 L349.5 886.4 L350.5 891.0 L351.4 894.7 L352.5 898.5 L353.5 901.9 L354.5 905.2 L355.5 908.0 L356.8 910.7 L357.5 911.7 L358.5 912.9 L359.5 913.8 L360.5 914.7 L361.5 915.5 L362.5 916.4 L363.9 917.9 L364.5 918.7 L365.5 920.4 L366.5 922.2 L367.5 924.2 L368.5 926.2 L369.5 928.0 L370.5 929.6 L371.0 930.3 L371.5 930.9 L372.5 932.0 L373.5 932.9 L374.5 933.7 L375.5 934.6 L376.5 935.5 L377.5 936.6 L378.2 937.5 L379.5 939.8 L380.5 942.1 L381.5 944.5 L382.5 946.6 L383.5 948.2 L384.5 949.4 L385.5 950.5 L386.5 951.6 L387.5 952.7 L388.5 953.5 L389.5 954.3 L390.5 954.8 L391.5 955.2 L392.4 955.3 L393.5 955.3 L394.5 955.3 L395.5 955.3 L396.5 955.3 L397.5 955.3 L398.5 955.3 L399.5 955.3 L400.5 955.5 L401.5 955.9 L402.5 956.6 L403.5 957.6 L404.5 958.6 L405.5 959.8 L406.5 961.0 L407.5 962.2 L408.4 963.3 L409.5 964.9 L410.5 966.7 L411.5 968.7 L412.5 970.8 L413.5 972.7 L414.5 974.3 L415.5 975.4 L416.5 975.8 L417.5 975.7 L418.5 975.4 L419.5 975.0 L420.5 974.5 L421.5 974.1 L422.5 973.6 L423.5 973.3 L424.5 973.1 L425.5 973.0 L426.5 972.9 L427.5 972.9 L428.5 972.8 L429.5 972.7 L430.5 972.7 L431.6 972.7 L432.5 972.9 L433.5 973.3 L434.5 974.0 L435.5 974.8 L436.5 975.6 L437.5 976.3 L438.7 976.7 L439.5 976.8 L440.5 976.9 L441.5 977.0 L442.5 977.1 L443.5 977.1 L444.5 977.2 L445.5 977.2 L446.5 977.3 L447.5 977.4 L448.5 977.5 L449.4 977.6 L450.5 978.0 L451.5 978.5 L452.5 979.2 L453.5 980.0 L454.5 980.8 L455.5 981.4 L456.5 981.9 L457.4 982.0 L458.5 981.9 L459.5 981.8 L460.5 981.6 L461.5 981.4 L462.5 981.1 L463.5 980.8 L464.5 980.5 L465.5 980.2 L466.5 979.8 L467.5 979.3 L468.5 978.7 L469.5 978.2 L470.5 977.6 L471.5 977.1 L472.5 976.8 L473.5 976.7 L474.5 977.1 L475.5 978.3 L476.5 979.8 L477.5 981.4 L478.5 982.8 L479.7 983.8 L480.5 984.1 L481.5 984.3 L482.5 984.6 L483.5 984.7 L484.5 984.9 L485.5 985.1 L486.5 985.2 L487.5 985.4 L488.6 985.6 L489.5 985.8 L490.5 986.0 L491.5 986.3 L492.5 986.5 L493.5 986.8 L494.5 987.0 L495.5 987.3 L496.5 987.5 L497.5 987.7 L498.5 988.0 L499.5 988.2 L500.5 988.5 L501.4 988.6 L502.5 988.3 L503.5 987.6 L504.5 986.7 L505.5 985.6 L506.5 984.7 L507.5 984.0 L508.8 983.6 L509.5 983.6 L510.5 983.8 L511.5 984.2 L512.5 984.6 L513.5 985.1 L514.5 985.6 L515.5 986.1 L516.5 986.5 L517.5 986.9 L518.5 987.1 L519.2 987.1 L520.5 987.1 L521.5 987.1 L522.5 987.0 L523.5 987.0 L524.5 986.9 L525.5 986.8 L526.5 986.7 L527.5 986.6 L528.1 986.5 L529.5 986.1 L530.5 985.6 L531.5 984.9 L532.5 984.2 L533.5 983.6 L534.5 983.0 L535.5 982.7 L536.5 982.4 L537.5 982.2 L538.5 982.0 L539.5 981.8 L540.5 981.6 L541.5 981.5 L542.9 981.5 L543.5 981.5 L544.5 981.9 L545.5 982.6 L546.5 983.4 L547.5 984.3 L548.5 985.0 L549.5 985.5 L550.4 985.6 L551.5 985.5 L552.5 985.1 L553.5 984.6 L554.5 983.9 L555.5 983.3 L556.5 982.7 L557.8 982.1 L558.5 981.8 L559.5 981.3 L560.5 980.9 L561.5 980.4 L562.5 980.0 L563.5 979.7 L564.5 979.4 L565.5 979.2 L566.7 979.1 L567.5 979.1 L568.5 979.3 L569.5 979.4 L570.5 979.7 L571.5 980.0 L572.5 980.4 L573.5 980.7 L574.5 981.1 L575.6 981.5 L576.5 981.9 L577.5 982.4 L578.5 983.1 L579.5 983.7 L580.5 984.3 L581.5 984.7 L582.5 985.0 L583.0 985.0 L584.5 984.5 L585.5 983.5 L586.5 982.3 L587.5 981.0 L588.5 979.7 L589.5 978.5 L590.4 977.6 L591.5 976.7 L592.5 975.9 L593.5 975.0 L594.5 974.3 L595.5 973.9 L596.4 973.8 L597.5 973.9 L598.5 974.2 L599.5 974.7 L600.5 975.4 L601.5 976.0 L602.5 976.7 L603.8 977.6 L604.5 978.1 L605.5 978.8 L606.5 979.6 L607.5 980.4 L608.5 981.2 L609.5 982.1 L610.5 983.0 L611.5 983.9 L612.7 985.0 L613.5 985.8 L614.5 986.8 L615.5 988.0 L616.5 989.1 L617.5 990.2 L618.5 991.3 L619.5 992.3 L620.5 993.2 L621.6 993.9 L622.5 994.5 L623.5 995.0 L624.5 995.6 L625.5 996.1 L626.5 996.6 L627.5 996.9 L628.5 997.2 L629.5 997.4 L630.5 997.5 L631.5 997.2 L632.5 996.3 L633.5 995.0 L634.5 993.6 L635.5 992.2 L636.5 991.1 L637.9 990.4 L638.5 990.4 L639.5 990.4 L640.5 990.4 L641.5 990.4 L642.5 990.4 L643.5 990.4 L644.5 990.4 L645.4 990.4 L646.5 991.0 L647.5 992.4 L648.5 994.3 L649.5 996.3 L650.5 998.2 L651.5 999.7 L652.8 1000.5 L653.5 1000.5 L654.5 1000.5 L655.5 1000.5 L656.5 1000.5 L657.5 1000.5 L658.5 1000.5 L659.5 1000.5 L660.5 1000.5 L661.5 1000.5 L662.5 1000.5 L663.2 1000.5 L664.5 1000.6 L665.5 1000.9 L666.5 1001.3 L667.5 1001.8 L668.5 1002.4 L669.5 1002.9 L670.5 1003.5 L671.5 1004.0 L672.1 1004.3 L673.5 1005.1 L674.5 1005.8 L675.5 1006.5 L676.5 1007.1 L677.5 1007.7 L678.5 1008.1 L679.5 1008.2 L680.5 1008.1 L681.5 1007.7 L682.5 1007.2 L683.5 1006.6 L684.5 1005.9 L685.5 1005.3 L686.5 1004.8 L687.5 1004.5 L688.4 1004.3 L689.5 1004.4 L690.5 1004.4 L691.5 1004.5 L692.5 1004.6 L693.5 1004.7 L694.5 1004.8 L695.5 1004.9 L696.5 1005.0 L697.5 1005.1 L698.5 1005.2 L699.5 1005.2 L700.0 1005.2 L700.5 1005.2 L701.5 1005.1 L702.5 1004.9 L703.5 1004.6 L704.5 1004.3 L705.5 1004.0 L706.5 1003.8 L707.5 1003.6 L708.9 1003.4 L709.5 1003.5 L710.5 1004.1 L711.5 1005.1 L712.5 1006.4 L713.5 1007.8 L714.5 1009.2 L715.5 1010.4 L716.5 1011.3 L717.8 1011.8 L718.5 1011.7 L719.5 1011.4 L720.5 1011.0 L721.5 1010.4 L722.5 1009.7 L723.5 1009.0 L724.5 1008.2 L725.5 1007.5 L726.5 1006.9 L727.5 1006.4 L728.5 1006.0 L729.7 1005.8 L730.5 1005.9 L731.5 1006.2 L732.5 1006.7 L733.5 1007.3 L734.5 1008.0 L735.5 1008.7 L736.5 1009.4 L737.5 1010.1 L738.5 1010.8 L739.5 1011.3 L740.5 1011.6 L741.6 1011.8 L742.5 1011.7 L743.5 1011.4 L744.5 1011.1 L745.5 1010.6 L746.5 1010.1 L747.5 1009.5 L748.5 1009.0 L749.5 1008.5 L750.5 1008.0 L751.5 1007.6 L752.5 1007.4 L753.4 1007.3 L754.5 1007.4 L755.5 1007.6 L756.5 1007.9 L757.5 1008.3 L758.5 1008.7 L759.5 1009.2 L760.5 1009.6 L761.5 1009.9 L762.5 1010.1 L763.8 1010.3 L764.5 1010.2 L765.5 1009.9 L766.5 1009.3 L767.5 1008.6 L768.5 1007.8 L769.5 1006.9 L770.5 1006.1 L771.5 1005.3 L772.5 1004.8 L773.5 1004.4 L774.2 1004.3 L775.5 1004.5 L776.5 1004.9 L777.5 1005.5 L778.5 1006.1 L779.5 1006.9 L780.5 1007.7 L781.5 1008.5 L782.5 1009.3 L783.5 1010.1 L784.5 1010.8 L785.5 1011.3 L786.5 1011.6 L787.6 1011.8 L788.5 1011.7 L789.5 1011.6 L790.5 1011.5 L791.5 1011.3 L792.5 1011.0 L793.5 1010.8 L794.5 1010.5 L795.5 1010.2 L796.5 1010.0 L797.5 1009.8 L798.5 1009.6 L799.5 1009.5 L801.0 1009.4 L801.5 1009.4 L802.5 1009.5 L803.5 1009.6 L804.5 1009.8 L805.5 1010.0 L806.5 1010.2 L807.5 1010.4 L808.5 1010.6 L809.5 1010.8 L810.5 1011.0 L811.5 1011.1 L812.8 1011.2 L813.5 1011.1 L814.5 1011.0 L815.5 1010.7 L816.5 1010.4 L817.5 1009.9 L818.5 1009.4 L819.5 1008.9 L820.5 1008.4 L821.5 1007.8 L822.5 1007.3 L823.5 1006.9 L824.7 1006.4 L825.5 1006.1 L826.5 1005.7 L827.5 1005.4 L828.5 1005.0 L829.5 1004.6 L830.5 1004.2 L831.5 1003.8 L832.5 1003.5 L833.5 1003.2 L834.5 1003.0 L835.5 1002.9 L836.6 1002.9 L837.5 1002.9 L838.5 1003.2 L839.5 1003.7 L840.5 1004.2 L841.5 1004.9 L842.5 1005.6 L843.5 1006.3 L844.5 1007.0 L845.5 1007.7 L846.5 1008.3 L847.5 1008.8 L848.5 1009.2 L849.9 1009.4 L850.5 1009.4 L851.5 1009.2 L852.5 1008.8 L853.5 1008.4 L854.5 1007.8 L855.5 1007.2 L856.5 1006.5 L857.5 1005.8 L858.5 1005.1 L859.5 1004.3 L860.5 1003.7 L861.8 1002.9 L862.5 1002.5 L863.5 1001.9 L864.5 1001.4 L865.5 1000.8 L866.5 1000.3 L867.5 999.7 L868.5 999.1 L869.5 998.6 L870.5 998.0 L871.5 997.4 L872.2 996.9 L873.5 996.0 L874.5 995.3 L875.5 994.5 L876.5 993.7 L877.5 992.9 L878.5 992.0 L879.5 991.2 L880.5 990.4 L881.5 989.7 L882.5 989.0 L883.5 988.4 L884.5 987.9 L885.6 987.4 L886.5 987.1 L887.5 986.7 L888.5 986.4 L889.5 986.0 L890.5 985.7 L891.5 985.4 L892.5 985.1 L893.5 984.8 L894.5 984.5 L895.5 984.3 L896.5 984.1 L897.5 983.9 L898.5 983.8 L899.5 983.7 L900.5 983.6 L901.9 983.6 L902.5 983.6 L903.5 984.1 L904.5 984.9 L905.5 985.9 L906.5 987.0 L907.5 988.1 L908.5 989.2 L909.5 990.2 L910.8 991.0 L911.5 991.3 L912.5 991.6 L913.5 992.0 L914.5 992.4 L915.5 992.7 L916.5 992.9 L917.5 993.1 L918.5 993.3 L919.7 993.3 L920.5 993.3 L921.5 992.9 L922.5 992.4 L923.5 991.8 L924.5 991.1 L925.5 990.4 L926.5 989.7 L927.5 989.0 L928.5 988.6 L929.5 988.3 L930.0 988.3 L930.5 988.3 L931.5 988.4 L932.5 988.7 L933.5 989.0 L934.5 989.4 L935.5 989.8 L936.5 990.2 L937.5 990.6 L938.5 990.9 L939.5 991.3 L940.5 991.5 L941.9 991.6 L942.5 991.6 L943.5 991.5 L944.5 991.4 L945.5 991.2 L946.5 991.0 L947.5 990.8 L948.5 990.7 L949.5 990.6 L950.2 990.6 L951.5 990.8 L952.5 991.2 L953.5 991.7 L954.5 992.2 L955.5 992.9 L956.5 993.5 L957.5 994.1 L958.5 994.6 L959.5 995.0 L960.5 995.3 L961.5 995.6 L962.5 996.0 L963.3 996.5 L964.5 999.9 L965.5 1005.5 L966.5 1012.2 L967.5 1018.6 L968.5 1023.5 L969.5 1025.4 L970.7 976.6 L971.4 934.7 L972.5 870.9 L973.5 814.5 L974.6 765.7 L975.7 724.5 L976.8 690.7 L977.9 664.4 L978.9 645.6 L979.5 638.9 L980.0 634.4 L980.6 631.5 L981.1 630.6 L981.6 631.5 L982.2 634.4 L983.3 645.6 L984.3 664.4 L985.4 690.7 L986.5 724.5 L987.6 765.7 L988.7 814.5 L989.7 870.9 L990.8 934.7 L991.5 976.6 L992.5 1010.8 L993.8 1030.4 L994.5 1029.7 L995.5 1026.6 L996.5 1021.9 L997.5 1016.2 L998.5 1010.6 L999.5 1005.7 L1000.5 1002.4 L1001.3 1001.5 L1002.5 1001.6 L1003.5 1001.8 L1004.5 1002.1 L1005.5 1002.4 L1006.5 1002.7 L1007.5 1002.8 L1008.4 1002.9 L1009.5 1002.8 L1010.5 1002.4 L1011.5 1001.9 L1012.5 1001.3 L1013.5 1000.6 L1014.5 999.8 L1015.5 999.1 L1016.5 998.4 L1017.5 997.8 L1018.5 997.4 L1019.5 997.1 L1020.3 997.0 L1021.5 997.4 L1022.5 998.1 L1023.5 999.1 L1024.5 1000.3 L1025.5 1001.6 L1026.5 1002.8 L1027.5 1003.8 L1028.6 1004.5 L1029.5 1004.9 L1030.5 1005.3 L1031.5 1005.8 L1032.5 1006.2 L1033.5 1006.6 L1034.5 1006.9 L1035.5 1007.2 L1036.5 1007.5 L1037.5 1007.7 L1038.5 1007.9 L1039.5 1008.1 L1040.5 1008.2 L1041.4 1008.2 L1042.5 1008.2 L1043.5 1008.0 L1044.5 1007.9 L1045.5 1007.6 L1046.5 1007.4 L1047.5 1007.1 L1048.5 1006.8 L1049.5 1006.5 L1050.5 1006.2 L1051.8 1005.8 L1052.5 1005.6 L1053.5 1005.3 L1054.5 1005.0 L1055.5 1004.6 L1056.5 1004.2 L1057.5 1003.8 L1058.5 1003.5 L1059.5 1003.2 L1060.5 1003.0 L1061.5 1002.9 L1062.2 1002.9 L1063.5 1003.0 L1064.5 1003.2 L1065.5 1003.6 L1066.5 1004.0 L1067.5 1004.5 L1068.5 1005.0 L1069.5 1005.5 L1070.5 1006.0 L1071.5 1006.5 L1072.5 1006.9 L1073.5 1007.2 L1074.1 1007.3 L1075.5 1007.6 L1076.5 1007.7 L1077.5 1007.9 L1078.5 1008.1 L1079.5 1008.2 L1080.5 1008.4 L1081.5 1008.5 L1082.5 1008.6 L1083.5 1008.7 L1084.5 1008.8 L1086.0 1008.8 L1086.5 1008.8 L1087.5 1008.8 L1088.5 1008.7 L1089.5 1008.7 L1090.5 1008.6 L1091.5 1008.5 L1092.5 1008.5 L1093.5 1008.3 L1094.5 1008.2 L1095.5 1008.1 L1096.5 1008.0 L1097.5 1007.8 L1098.5 1007.7 L1099.5 1007.5 L1100.8 1007.3 L1101.5 1007.2 L1102.5 1006.8 L1103.5 1006.3 L1104.5 1005.8 L1105.5 1005.2 L1106.5 1004.6 L1107.5 1004.0 L1108.5 1003.5 L1109.5 1003.1 L1110.5 1002.9 L1111.2 1002.9 L1112.5 1004.5 L1113.5 1007.5 L1114.5 1011.2 L1115.5 1015.1 L1116.5 1018.3 L1117.5 1020.2 L1118.0 1020.5 L1118.5 1018.0 L1119.5 1001.0 L1120.2 982.1 L1120.9 949.4 L1121.9 899.7 L1123.0 855.8 L1123.5 836.4 L1124.0 817.8 L1125.1 785.6 L1126.2 759.3 L1127.2 738.8 L1128.3 724.2 L1129.3 715.4 L1129.9 713.2 L1130.4 712.5 L1130.9 713.2 L1131.5 715.4 L1132.5 724.2 L1133.6 738.8 L1134.6 759.3 L1135.7 785.6 L1136.8 817.8 L1137.8 855.8 L1138.9 899.7 L1139.9 949.4 L1140.6 982.1 L1141.5 1021.4 L1142.1 1032.8 L1143.5 1030.1 L1144.5 1025.7 L1145.5 1020.6 L1146.5 1015.8 L1147.5 1012.3 L1148.3 1011.2 L1149.5 1011.0 L1150.5 1010.9 L1151.5 1010.8 L1152.5 1010.7 L1153.5 1010.6 L1154.5 1010.5 L1155.5 1010.5 L1156.5 1010.4 L1157.5 1010.4 L1158.5 1010.3 L1159.5 1010.3 L1160.5 1010.3 L1161.5 1010.3 L1162.5 1010.3 L1163.2 1010.3 L1164.5 1010.3 L1165.5 1010.3 L1166.5 1010.3 L1167.5 1010.3 L1168.5 1010.3 L1169.5 1010.3 L1170.5 1010.3 L1171.5 1010.3 L1172.5 1010.3 L1173.5 1010.3 L1174.5 1010.3 L1175.1 1010.3 L1176.5 1010.5 L1177.5 1010.9 L1178.5 1011.4 L1179.5 1012.0 L1180.5 1012.7 L1181.5 1013.4 L1182.5 1014.1 L1183.5 1014.8 L1184.5 1015.4 L1185.5 1015.8 L1186.9 1016.2 L1187.5 1016.3 L1188.5 1016.4 L1189.5 1016.5 L1190.5 1016.5 L1191.5 1016.6 L1192.5 1016.6 L1193.5 1016.7 L1194.5 1016.7 L1195.5 1016.8 L1196.5 1016.8 L1197.5 1016.9 L1198.5 1017.0 L1199.5 1017.1 L1200.0 1017.1 L1200.5 1017.2 L1201.5 1017.3 L1202.5 1017.5 L1203.5 1017.7 L1204.5 1017.9 L1205.5 1018.2 L1206.5 1018.4 L1207.5 1018.6 L1208.5 1018.8 L1209.5 1019.0 L1210.5 1019.1 L1211.9 1019.2 L1212.5 1019.2 L1213.5 1019.2 L1214.5 1019.1 L1215.5 1019.0 L1216.5 1019.0 L1217.5 1018.9 L1218.5 1018.8 L1219.5 1018.7 L1220.5 1018.6 L1221.5 1018.5 L1222.5 1018.5 L1223.5 1018.4 L1224.5 1018.3 L1225.5 1018.3 L1226.7 1018.3 L1227.5 1018.3 L1228.5 1018.4 L1229.5 1018.5 L1230.5 1018.6 L1231.5 1018.8 L1232.5 1019.0 L1233.5 1019.2 L1234.5 1019.4 L1235.5 1019.7 L1236.5 1020.0 L1237.5 1020.2 L1238.5 1020.5 L1239.5 1020.8 L1240.5 1021.0 L1241.6 1021.3 L1242.5 1021.5 L1243.5 1021.8 L1244.5 1022.1 L1245.5 1022.4 L1246.5 1022.7 L1247.5 1023.1 L1248.5 1023.4 L1249.5 1023.7 L1250.5 1023.9 L1251.5 1024.1 L1252.5 1024.2 L1253.4 1024.2 L1254.5 1024.2 L1255.5 1024.0 L1256.5 1023.7 L1257.5 1023.3 L1258.5 1022.9 L1259.5 1022.4 L1260.5 1022.0 L1261.5 1021.5 L1262.5 1021.1 L1263.5 1020.7 L1264.5 1020.4 L1265.5 1020.2 L1266.8 1020.1 L1267.5 1020.1 L1268.5 1020.2 L1269.5 1020.3 L1270.5 1020.5 L1271.5 1020.7 L1272.5 1020.9 L1273.5 1021.1 L1274.5 1021.3 L1275.5 1021.6 L1276.5 1021.8 L1277.5 1021.9 L1278.5 1022.1 L1279.5 1022.1 L1280.2 1022.1 L1281.5 1022.1 L1282.5 1022.1 L1283.5 1022.1 L1284.5 1022.0 L1285.5 1022.0 L1286.5 1021.9 L1287.5 1021.8 L1288.5 1021.7 L1289.5 1021.6 L1290.5 1021.6 L1291.5 1021.5 L1292.5 1021.4 L1293.5 1021.3 L1294.5 1021.2 L1295.5 1021.1 L1296.5 1021.0 L1297.5 1020.9 L1298.5 1020.9 L1299.5 1020.8 L1300.5 1020.7 L1301.5 1020.7 L1302.5 1020.7 L1303.9 1020.7 L1304.5 1020.7 L1305.5 1020.8 L1306.5 1021.1 L1307.5 1021.4 L1308.5 1021.8 L1309.5 1022.2 L1310.5 1022.7 L1311.5 1023.2 L1312.5 1023.7 L1313.5 1024.2 L1314.5 1024.7 L1315.5 1025.1 L1316.5 1025.5 L1317.5 1025.8 L1318.8 1026.0 L1319.5 1026.1 L1320.5 1026.2 L1321.5 1026.3 L1322.5 1026.4 L1323.5 1026.5 L1324.5 1026.5 L1325.5 1026.6 L1326.5 1026.7 L1327.5 1026.8 L1328.5 1026.8 L1329.5 1026.9 L1330.5 1026.9 L1331.5 1027.0 L1332.5 1027.0 L1333.5 1027.1 L1334.5 1027.1 L1335.5 1027.1 L1336.5 1027.2 L1337.5 1027.2 L1338.5 1027.2 L1339.5 1027.2 L1340.5 1027.2 L1341.5 1027.1 L1342.5 1026.9 L1343.5 1026.7 L1344.5 1026.5 L1345.5 1026.3 L1346.5 1026.2 L1347.5 1026.0 L1348.5 1026.0 L1349.5 1026.2 L1350.5 1026.6 L1351.5 1027.1 L1352.5 1027.6 L1353.5 1028.0 L1354.4 1028.1 L1355.5 1028.0 L1356.5 1027.9 L1357.5 1027.6 L1358.5 1027.3 L1359.5 1026.9 L1360.5 1026.5 L1361.5 1026.1 L1362.5 1025.6 L1363.5 1025.1 L1364.5 1024.7 L1365.5 1024.3 L1366.5 1023.9 L1367.5 1023.6 L1368.5 1023.3 L1369.5 1023.1 L1370.7 1023.0 L1371.5 1023.1 L1372.5 1023.2 L1373.5 1023.4 L1374.5 1023.7 L1375.5 1024.0 L1376.5 1024.3 L1377.5 1024.5 L1378.5 1024.8 L1379.5 1025.0 L1380.5 1025.1 L1381.1 1025.1 L1382.5 1025.1 L1383.5 1025.0 L1384.5 1024.8 L1385.5 1024.7 L1386.5 1024.5 L1387.5 1024.3 L1388.5 1024.1 L1389.5 1023.9 L1390.5 1023.8 L1391.5 1023.7 L1393.0 1023.6 L1393.5 1023.6 L1394.5 1023.7 L1395.5 1023.9 L1396.5 1024.2 L1397.5 1024.5 L1398.5 1024.8 L1399.5 1025.2 L1400.5 1025.6 L1401.5 1026.0 L1402.5 1026.4 L1403.5 1026.7 L1404.5 1027.0 L1405.5 1027.2 L1406.5 1027.4 L1407.8 1027.5 L1408.5 1027.5 L1409.5 1027.5 L1410.5 1027.5 L1411.5 1027.5 L1412.5 1027.5 L1413.5 1027.5 L1414.5 1027.5 L1415.5 1027.5 L1416.5 1027.5 L1417.5 1027.5 L1418.5 1027.5 L1419.5 1027.5 L1420.5 1027.5 L1421.5 1027.5 L1422.7 1027.5 L1423.5 1027.5 L1424.5 1027.4 L1425.5 1027.4 L1426.5 1027.2 L1427.5 1027.1 L1428.5 1026.9 L1429.5 1026.8 L1430.5 1026.6 L1431.5 1026.4 L1432.5 1026.2 L1433.5 1025.9 L1434.5 1025.7 L1435.5 1025.5 L1436.5 1025.3 L1437.5 1025.1 L1438.5 1024.9 L1439.5 1024.7 L1440.5 1024.4 L1441.5 1024.1 L1442.5 1023.8 L1443.5 1023.5 L1444.5 1023.2 L1445.5 1023.0 L1446.5 1022.7 L1447.5 1022.5 L1448.5 1022.3 L1449.5 1022.2 L1450.9 1022.1 L1451.5 1022.2 L1452.5 1022.4 L1453.5 1022.7 L1454.5 1023.1 L1455.5 1023.6 L1456.5 1024.2 L1457.5 1024.8 L1458.5 1025.3 L1459.5 1025.8 L1460.5 1026.2 L1461.5 1026.5 L1462.8 1026.6 L1463.5 1026.6 L1464.5 1026.6 L1465.5 1026.6 L1466.5 1026.5 L1467.5 1026.5 L1468.5 1026.5 L1469.5 1026.4 L1470.5 1026.4 L1471.5 1026.3 L1472.5 1026.3 L1473.5 1026.2 L1474.5 1026.1 L1475.5 1026.1 L1476.1 1026.0 L1477.5 1025.9 L1478.5 1025.8 L1479.5 1025.6 L1480.5 1025.4 L1481.5 1025.2 L1482.5 1025.0 L1483.5 1024.8 L1484.5 1024.6 L1485.5 1024.4 L1486.5 1024.2 L1487.5 1024.0 L1488.5 1023.8 L1489.5 1023.6 L1490.5 1023.5 L1491.5 1023.4 L1492.5 1023.2 L1493.5 1023.1 L1494.5 1023.0 L1495.5 1022.9 L1496.5 1022.8 L1497.5 1022.6 L1498.5 1022.4 L1499.9 1022.1 L1500.5 1021.9 L1501.5 1021.4 L1502.5 1020.6 L1503.5 1019.7 L1504.5 1018.8 L1505.5 1017.9 L1506.5 1017.1 L1507.5 1016.5 L1508.8 1016.2 L1509.5 1016.2 L1510.5 1016.3 L1511.5 1016.5 L1512.5 1016.8 L1513.5 1017.0 L1514.5 1017.4 L1515.5 1017.7 L1516.5 1018.0 L1517.7 1018.3 L1518.5 1018.5 L1519.5 1018.8 L1520.5 1019.2 L1521.5 1019.5 L1522.5 1019.9 L1523.5 1020.2 L1524.5 1020.4 L1525.5 1020.6 L1526.6 1020.7 L1527.5 1020.6 L1528.5 1020.6 L1529.5 1020.5 L1530.5 1020.4 L1531.5 1020.2 L1532.5 1020.1 L1533.5 1019.9 L1534.5 1019.7 L1535.5 1019.6 L1536.5 1019.4 L1537.5 1019.3 L1538.5 1019.2 L1539.5 1019.1 L1540.5 1019.0 L1541.5 1018.9 L1542.5 1018.8 L1543.5 1018.7 L1544.5 1018.6 L1545.5 1018.6 L1546.5 1018.5 L1547.5 1018.4 L1548.5 1018.4 L1549.5 1018.3 L1550.5 1018.3 L1551.8 1018.3 L1552.5 1018.3 L1553.5 1018.5 L1554.5 1018.7 L1555.5 1019.1 L1556.5 1019.5 L1557.5 1019.9 L1558.5 1020.4 L1559.5 1020.9 L1560.5 1021.4 L1561.5 1021.8 L1562.5 1022.2 L1563.5 1022.5 L1564.5 1022.7 L1565.7 1022.8 L1566.5 1022.8 L1567.5 1022.6 L1568.5 1022.4 L1569.5 1022.1 L1570.5 1021.8 L1571.5 1021.4 L1572.5 1021.0 L1573.5 1020.5 L1574.5 1020.0 L1575.5 1019.6 L1576.5 1019.2 L1577.5 1018.8 L1578.5 1018.4 L1579.5 1018.0 L1580.5 1017.7 L1581.5 1017.2 L1582.5 1016.8 L1583.5 1016.4 L1584.5 1016.0 L1585.5 1015.7 L1586.5 1015.3 L1587.5 1015.1 L1588.5 1014.9 L1589.9 1014.8 L1590.5 1014.9 L1591.5 1015.5 L1592.5 1016.4 L1593.5 1017.6 L1594.5 1019.0 L1595.6 1020.5 L1596.5 1022.0 L1597.5 1024.3 L1598.5 1027.0 L1599.5 1029.9 L1600.5 1032.7 L1601.5 1035.4 L1602.5 1037.5 L1603.5 1039.0 L1604.5 1039.5 L1605.5 1033.2 L1606.5 1016.2 L1607.2 999.0 L1607.8 966.2 L1608.9 916.3 L1609.9 872.3 L1611.0 834.2 L1611.5 816.7 L1612.0 801.9 L1612.5 788.4 L1613.0 775.5 L1614.1 754.9 L1615.1 740.2 L1616.2 731.4 L1616.7 729.2 L1617.2 728.5 L1617.7 729.2 L1618.2 731.4 L1619.3 740.2 L1620.3 754.9 L1621.4 775.5 L1622.4 801.9 L1623.4 834.2 L1624.5 872.3 L1625.5 916.3 L1626.6 966.2 L1627.2 999.0 L1628.5 1020.9 L1629.5 1031.9 L1630.5 1038.0 L1631.3 1039.5 L1632.5 1038.8 L1633.5 1037.3 L1634.5 1035.2 L1635.5 1032.8 L1636.5 1030.3 L1637.5 1027.9 L1638.5 1026.0 L1639.5 1024.6 L1640.5 1024.1 L1641.5 1024.2 L1642.5 1024.4 L1643.5 1024.7 L1644.5 1025.2 L1645.5 1025.6 L1646.5 1026.1 L1647.5 1026.6 L1648.5 1027.1 L1649.5 1027.5 L1650.5 1027.8 L1651.5 1028.0 L1652.0 1028.0 L1652.5 1028.0 L1653.5 1028.0 L1654.5 1028.1 L1655.5 1028.1 L1656.5 1028.1 L1657.5 1028.1 L1658.5 1028.1 L1659.5 1028.1 L1660.5 1028.1 L1661.5 1028.1 L1662.5 1028.1 L1663.5 1028.2 L1664.5 1028.2 L1665.5 1028.2 L1666.5 1028.2 L1667.0 1028.2 L1667.5 1028.2 L1668.5 1028.2 L1669.5 1028.2 L1670.5 1028.3 L1671.5 1028.3 L1672.5 1028.3 L1673.5 1028.3 L1674.5 1028.3 L1675.5 1028.4 L1676.5 1028.4 L1677.5 1028.4 L1678.5 1028.4 L1679.5 1028.5 L1680.0 1028.5 L1680.5 1028.5 L1681.5 1028.6 L1682.5 1028.7 L1683.5 1028.8 L1684.5 1028.9 L1685.5 1029.0 L1686.5 1029.2 L1687.5 1029.3 L1688.5 1029.5 L1689.5 1029.7 L1690.5 1029.8 L1691.5 1030.0 L1692.5 1030.2 L1693.5 1030.3 L1694.5 1030.5 L1695.5 1030.6 L1696.5 1030.8 L1697.5 1030.9 L1698.5 1031.0 L1699.3 1031.1 L1700.5 1031.1 L1701.5 1031.2 L1702.5 1031.3 L1703.5 1031.4 L1704.5 1031.4 L1705.5 1031.5 L1706.5 1031.6 L1707.5 1031.6 L1708.5 1031.7 L1709.5 1031.7 L1710.5 1031.8 L1711.5 1031.8 L1712.5 1031.9 L1713.5 1031.9 L1714.5 1031.9 L1715.5 1031.9 L1716.5 1031.9 L1717.1 1031.9 L1718.5 1031.9 L1719.5 1031.9 L1720.5 1031.8 L1721.5 1031.7 L1722.5 1031.6 L1723.5 1031.5 L1724.5 1031.4 L1725.5 1031.3 L1726.5 1031.1 L1727.5 1031.0 L1728.5 1030.8 L1729.5 1030.7 L1730.5 1030.5 L1731.5 1030.4 L1732.5 1030.2 L1733.5 1030.1 L1734.5 1030.0 L1735.5 1029.9 L1736.5 1029.8 L1737.5 1029.7 L1738.5 1029.6 L1739.5 1029.6 L1740.8 1029.6 L1741.5 1029.6 L1742.5 1029.7 L1743.5 1029.9 L1744.5 1030.1 L1745.5 1030.4 L1746.5 1030.7 L1747.5 1031.0 L1748.5 1031.3 L1749.5 1031.5 L1750.5 1031.7 L1751.5 1031.9 L1752.7 1031.9 L1753.5 1031.9 L1754.5 1031.6 L1755.5 1031.3 L1756.5 1030.8 L1757.5 1030.3 L1758.5 1029.8 L1759.5 1029.4 L1760.5 1029.1 L1761.6 1029.0 L1762.5 1029.0 L1763.5 1029.0 L1764.5 1029.0 L1765.5 1029.0 L1766.5 1029.0 L1767.5 1029.0 L1768.5 1029.0 L1769.5 1029.0 L1770.5 1029.0 L1771.5 1029.0 L1772.5 1029.2 L1773.5 1029.4 L1774.5 1029.8 L1775.5 1030.1 L1776.5 1030.5 L1777.5 1030.8 L1778.5 1031.2 L1779.5 1031.5 L1780.5 1031.7 L1781.5 1031.9 L1782.4 1031.9 L1783.5 1031.9 L1784.5 1031.9 L1785.5 1031.9 L1786.5 1031.9 L1787.5 1031.9 L1788.5 1031.9 L1789.5 1031.9 L1790.5 1031.9 L1791.5 1031.9 L1792.5 1031.9 L1793.5 1031.9 L1794.5 1031.9 L1795.5 1031.9 L1796.5 1031.9 L1797.5 1031.9 L1798.5 1031.9 L1799.5 1031.9 L1800.2 1031.9 L1801.5 1031.9 L1802.5 1031.8 L1803.5 1031.7 L1804.5 1031.6 L1805.5 1031.5 L1806.5 1031.3 L1807.5 1031.1 L1808.5 1030.9 L1809.5 1030.7 L1810.5 1030.5 L1811.5 1030.3 L1812.5 1030.1 L1813.5 1029.9 L1814.5 1029.7 L1815.5 1029.5 L1816.5 1029.3 L1817.5 1029.2 L1818.5 1029.1 L1819.5 1029.0 L1820.5 1029.0 L1821.0 1029.0 L1822.5 1029.2 L1823.5 1029.5 L1824.5 1030.0 L1825.5 1030.5 L1826.5 1031.2 L1827.5 1031.8 L1828.5 1032.5 L1829.5 1033.1 L1830.5 1033.7 L1831.5 1034.2 L1832.5 1034.6 L1833.5 1034.8 L1834.4 1034.9 L1835.5 1034.8 L1836.5 1034.5 L1837.5 1034.0 L1838.5 1033.4 L1839.5 1032.8 L1840.5 1032.1 L1841.5 1031.4 L1842.5 1030.8 L1843.5 1030.3 L1844.5 1029.9 L1845.5 1029.6 L1846.2 1029.6 L1847.5 1029.6 L1848.5 1029.7 L1849.5 1029.9 L1850.5 1030.1 L1851.5 1030.3 L1852.5 1030.5 L1853.5 1030.7 L1854.5 1031.0 L1855.5 1031.2 L1856.5 1031.5 L1857.5 1031.6 L1858.5 1031.8 L1859.6 1031.9 L1860.5 1032.0 L1861.5 1032.1 L1862.5 1032.2 L1863.5 1032.3 L1864.5 1032.4 L1865.5 1032.4 L1866.5 1032.5 L1867.5 1032.5 L1868.5 1032.5 L1869.5 1032.5 L1870.5 1032.5 L1871.5 1032.4 L1872.5 1032.3 L1873.5 1032.1 L1874.5 1032.0 L1875.5 1031.9 L1876.5 1031.7 L1877.5 1031.6 L1878.5 1031.5 L1879.5 1031.5 L1880.0 1031.5 L1880.5 1031.5 L1881.5 1031.5 L1882.5 1031.6 L1883.5 1031.7 L1884.5 1031.8 L1885.5 1031.9 L1886.5 1032.0 L1887.5 1032.1 L1888.5 1032.2 L1889.5 1032.3 L1890.5 1032.4 L1891.5 1032.5 L1892.5 1032.5 L1893.0 1032.5 L1893.5 1032.5 L1894.5 1032.4 L1895.5 1032.3 L1896.5 1032.2 L1897.5 1032.0 L1898.5 1031.7 L1899.5 1031.5 L1900.5 1031.2 L1901.5 1031.0 L1902.5 1030.8 L1903.5 1030.5 L1904.5 1030.3 L1905.5 1030.2 L1906.5 1030.1 L1907.5 1030.0 L1908.0 1030.0 L1908.5 1030.0 L1909.5 1030.2 L1910.5 1030.4 L1911.5 1030.8 L1912.0 1031.0 L1912.5 1031.4 L1913.5 1032.9 L1914.5 1034.7 L1915.9 1036.0 L1916.5 1035.4 L1917.5 1032.2 L1918.9 1023.3 L1919.5 1012.1 L1920.6 994.5 L1921.7 978.4 L1922.7 963.7 L1923.8 950.6 L1924.8 939.1 L1925.8 929.4 L1926.9 921.6 L1928.0 916.1 L1928.5 914.4 L1929.0 913.6 L1929.6 914.4 L1930.2 916.1 L1931.3 921.6 L1932.5 929.4 L1933.7 939.1 L1934.8 950.6 L1935.5 957.7 L1936.0 963.7 L1937.2 978.4 L1938.4 994.5 L1939.5 1012.1 L1940.2 1023.3 L1941.5 1028.9 L1942.5 1032.0 L1943.5 1034.0 L1944.5 1035.0 L1945.1 1035.2 L1946.5 1034.9 L1947.5 1034.3 L1948.5 1033.6 L1949.5 1033.0 L1950.5 1032.4 L1951.5 1032.0 L1952.0 1032.0 L1952.5 1032.0 L1953.5 1032.0 L1954.5 1032.1 L1955.5 1032.1 L1956.5 1032.2 L1957.5 1032.3 L1958.0 1032.3 L1958.5 1032.4 L1959.5 1033.0 L1960.5 1033.7 L1961.5 1034.4 L1962.5 1034.9 L1963.0 1035.0 L1963.5 1035.0 L1964.5 1035.0 L1965.5 1035.0 L1966.5 1035.0 L1967.5 1035.0 L1968.5 1035.0 L1969.5 1035.0 L1970.5 1035.0 L1971.5 1035.0 L1972.5 1035.0 L1973.5 1035.0 L1974.5 1035.0 L1975.5 1035.0"/></defs>
<use href="#curve-naoh" stroke="#000" stroke-width="7.0"/>
<use href="#curve-naoh" stroke="#000" stroke-width="5" transform="translate(0.37 0.29)"/>
<use href="#curve-nahco3" stroke="#f00" stroke-width="7.0"/>
<use href="#curve-nahco3" stroke="#f00" stroke-width="5" transform="translate(0.37 0.29)"/>
</g>
</svg>
<text x="300.8" y="2484.6" text-anchor="middle">10</text>
<text x="540.2" y="2484.6" text-anchor="middle">20</text>
<text x="775.0" y="2484.6" text-anchor="middle">30</text>
<text x="1017.4" y="2484.6" text-anchor="middle">40</text>
<text x="1255.9" y="2484.6" text-anchor="middle">50</text>
<text x="1493.3" y="2484.6" text-anchor="middle">60</text>
<text x="1727.8" y="2484.6" text-anchor="middle">70</text>
<text x="1969.1" y="2484.6" text-anchor="middle">80</text>
<text x="843" y="2597">2θ (degree)</text>
<text transform="translate(81.4 1509.4) rotate(-90)" style="font-size:83.4px">Intensity (a.u.)</text>
<text x="277" y="156.4" style="word-spacing:3px">A: Al</text>
<text><tspan x="273.4" y="270.3">B:</tspan><tspan dx="-2.4" style="letter-spacing:-0.25px"> Ni(OH)</tspan><tspan class="sub" x="645" y="274.8">2</tspan><tspan x="669.3" y="266.2" style="font-size:74px">·</tspan><tspan x="689.6" y="277" style="font-size:93px" textLength="38.6" lengthAdjust="spacingAndGlyphs">x</tspan><tspan x="729.8" y="270.3">H</tspan><tspan class="sub" x="794.2" y="274.8">2</tspan><tspan x="820.5" y="270.3">O</tspan></text>
<text><tspan x="1490.5" y="1149.4">NaHCO</tspan><tspan class="sub" x="1782.3" y="1152.6">3</tspan><tspan x="1810" y="1156.2">_</tspan><tspan x="1852.5" y="1149.4">T</tspan></text>
<text><tspan x="1577" y="2270.5">NaOH</tspan><tspan x="1810" y="2277.3">_</tspan><tspan x="1852.5" y="2270.5">T</tspan></text>
<text x="302.2" y="814.8">B</text>
<text x="575.2" y="935.1">B</text>
<text x="898.6" y="857.9">B</text>
<text x="873.4" y="944.5">B</text>
<text x="956.9" y="590.3">A</text>
<text x="1101.7" y="673.2">A</text>
<text x="1145.1" y="966.8">B</text>
<text x="1487.7" y="978.1">B</text>
<text x="1588.5" y="691.1">A</text>
<text x="1901.4" y="873.3">A</text>
<text x="299.2" y="1218.2">B</text>
<text x="564.0" y="1909.3">B</text>
<text x="887.3" y="1942.1">B</text>
<text x="862.4" y="2026.2">B</text>
<text x="952.9" y="1448.6">A</text>
<text x="1104.9" y="1738.1">A</text>
<text x="1145.1" y="2080.2">B</text>
<text x="1491.5" y="2083.5">B</text>
<text x="1592.1" y="2028.8">A</text>
<text x="1905.2" y="2048.4">A</text>
</svg>
</body>
</html>
